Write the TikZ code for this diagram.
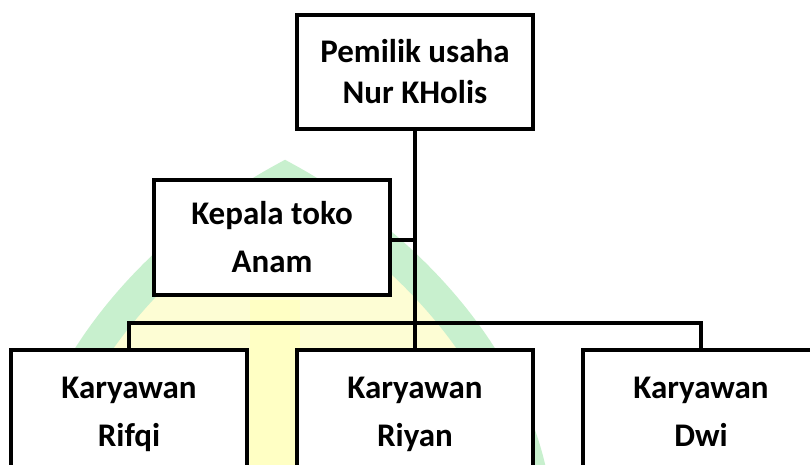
\documentclass[tikz,border=0pt]{standalone}
\usepackage{fontspec}
\setmainfont{Carlito}
\newcommand{\twolines}[3][0pt]{\raisebox{#1}{\begin{tabular}{@{}c@{}}#2\\#3\end{tabular}}}
\definecolor{wmgreen}{RGB}{200,240,206}
\definecolor{wmyellow}{RGB}{253,253,212}
\definecolor{wmyellow2}{RGB}{255,255,196}
\begin{document}
\begin{tikzpicture}[x=1pt,y=-1pt,
  box/.style={draw=black, line width=4pt, fill=white, rectangle, minimum width=236pt, minimum height=115pt,
    align=center, inner sep=0pt, font=\fontsize{33}{48}\selectfont\bfseries},
  conn/.style={draw=black, line width=4pt, line join=miter}]
\useasboundingbox (0,0) rectangle (810,464);
\fill[white] (0,0) rectangle (810,464);
% watermark (faint arch)
\fill[wmyellow] (40,470) .. controls (70,340) and (180,235) .. (285,178)
  .. controls (390,235) and (500,340) .. (530,470) -- cycle;
\fill[wmyellow2] (250,300) rectangle (300,470);
\draw[wmgreen, line width=32pt] (40,470) .. controls (70,340) and (180,235) .. (285,178)
  .. controls (390,235) and (500,340) .. (530,470);
% nodes
\node[box, font=\fontsize{33}{41}\selectfont\bfseries, minimum height=114pt] (top) at (415,72) {Pemilik usaha\\Nur KHolis};
\node[box] (kep) at (272,237.5) {Kepala toko\\Anam};
\node[box, minimum height=126pt] (rifqi) at (129,413) {\twolines[6pt]{Karyawan}{Rifqi}};
\node[box, minimum height=126pt] (riyan) at (415,413) {\twolines[6pt]{Karyawan}{Riyan}};
\node[box, minimum height=126pt] (dwi) at (701,413) {\twolines[6pt]{Karyawan}{Dwi}};
\coordinate (bus) at (415,323);
% connectors
\draw[conn] (top.south) -- (riyan.north);
\draw[conn] (kep.east |- 0,240) -- (top.south |- 0,240);
\draw[conn] (rifqi.north) -- (rifqi.north |- bus) -- (dwi.north |- bus) -- (dwi.north);
\end{tikzpicture}
\end{document}
